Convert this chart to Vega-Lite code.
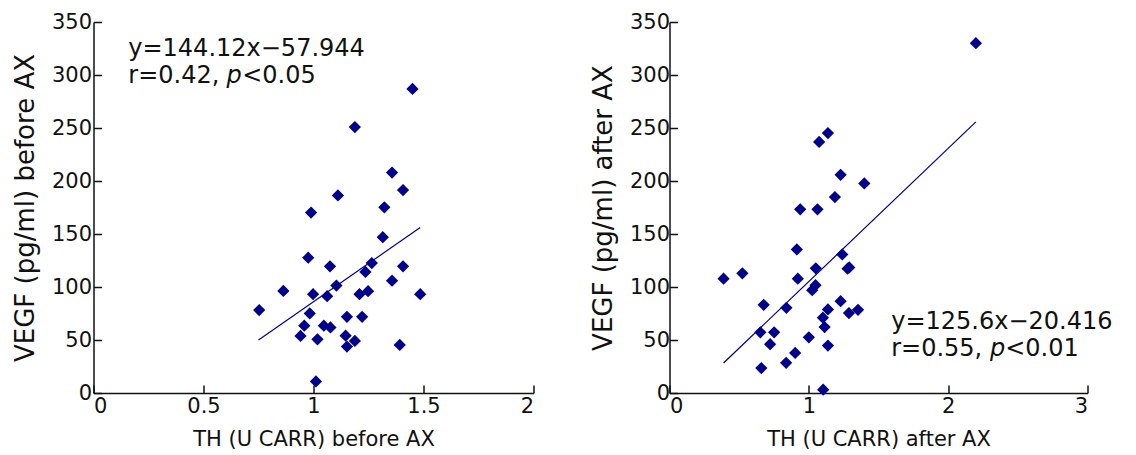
{
  "$schema": "https://vega.github.io/schema/vega-lite/v6.json",
  "padding": {"left": 11.5, "top": 11, "right": 0, "bottom": 0},
  "background": "white",
  "config": {
    "font": "DejaVu Sans",
    "view": {"stroke": null},
    "axis": {
      "grid": false,
      "domainColor": "#111",
      "domainWidth": 1.5,
      "tickColor": "#111",
      "tickWidth": 1.5,
      "tickSize": -8,
      "labelFontSize": 21,
      "labelColor": "#111",
      "titleFontSize": 21,
      "titleFontWeight": "normal",
      "titleColor": "#111",
      "labelPadding": 10
    },
    "axisX": {"format": "~g"},
    "axisY": {"titleFontSize": 26, "format": "d"}
  },
  "spacing": 55,
  "datasets": {
    "before": [
      {"th": 0.753, "vegf": 78.2}, {"th": 0.863, "vegf": 96.3}, {"th": 0.941, "vegf": 53.8},
      {"th": 0.958, "vegf": 63.5}, {"th": 0.976, "vegf": 127.6}, {"th": 0.989, "vegf": 170.2},
      {"th": 0.983, "vegf": 75.1}, {"th": 0.998, "vegf": 93.2}, {"th": 1.018, "vegf": 50.7},
      {"th": 1.011, "vegf": 10.9}, {"th": 1.047, "vegf": 63.5}, {"th": 1.062, "vegf": 91.3},
      {"th": 1.077, "vegf": 61.9}, {"th": 1.075, "vegf": 119.5}, {"th": 1.104, "vegf": 101.3},
      {"th": 1.111, "vegf": 186.4}, {"th": 1.152, "vegf": 71.9}, {"th": 1.146, "vegf": 54.1},
      {"th": 1.152, "vegf": 43.8}, {"th": 1.188, "vegf": 49.1}, {"th": 1.188, "vegf": 250.9},
      {"th": 1.209, "vegf": 93.2}, {"th": 1.221, "vegf": 71.9}, {"th": 1.236, "vegf": 114.2},
      {"th": 1.248, "vegf": 96.0}, {"th": 1.265, "vegf": 122.6}, {"th": 1.315, "vegf": 147.0},
      {"th": 1.322, "vegf": 175.2}, {"th": 1.357, "vegf": 208.0}, {"th": 1.357, "vegf": 106.0},
      {"th": 1.392, "vegf": 45.4}, {"th": 1.407, "vegf": 119.5}, {"th": 1.407, "vegf": 191.4},
      {"th": 1.450, "vegf": 286.8}, {"th": 1.485, "vegf": 93.2}
    ],
    "beforeFit": [{"th": 0.75, "vegf": 50.1}, {"th": 1.485, "vegf": 156.1}],
    "after": [
      {"th": 0.388, "vegf": 107.9}, {"th": 0.523, "vegf": 112.9}, {"th": 0.676, "vegf": 83.2},
      {"th": 0.652, "vegf": 57.2}, {"th": 0.659, "vegf": 23.5}, {"th": 0.751, "vegf": 57.2},
      {"th": 0.722, "vegf": 46.0}, {"th": 0.839, "vegf": 80.4}, {"th": 0.837, "vegf": 28.5},
      {"th": 0.902, "vegf": 37.8}, {"th": 0.914, "vegf": 135.4}, {"th": 0.921, "vegf": 107.9},
      {"th": 0.938, "vegf": 173.3}, {"th": 1.000, "vegf": 52.5}, {"th": 1.024, "vegf": 97.0},
      {"th": 1.048, "vegf": 101.7}, {"th": 1.050, "vegf": 117.6}, {"th": 1.062, "vegf": 173.3},
      {"th": 1.074, "vegf": 236.8}, {"th": 1.101, "vegf": 71.0}, {"th": 1.113, "vegf": 62.2},
      {"th": 1.103, "vegf": 3.1}, {"th": 1.137, "vegf": 78.8}, {"th": 1.137, "vegf": 44.7},
      {"th": 1.137, "vegf": 245.2}, {"th": 1.187, "vegf": 184.9}, {"th": 1.228, "vegf": 205.8},
      {"th": 1.228, "vegf": 86.6}, {"th": 1.240, "vegf": 130.7}, {"th": 1.278, "vegf": 117.3},
      {"th": 1.290, "vegf": 118.5}, {"th": 1.288, "vegf": 75.4}, {"th": 1.353, "vegf": 78.5},
      {"th": 1.398, "vegf": 197.7}, {"th": 2.199, "vegf": 330.0}
    ],
    "afterFit": [{"th": 0.388, "vegf": 28.3}, {"th": 2.199, "vegf": 255.8}]
  },
  "hconcat": [
    {
      "width": 440,
      "height": 371,
      "layer": [
        {
          "data": {"name": "before"},
          "mark": {"type": "point", "shape": "diamond", "filled": true, "size": 150, "color": "#00008b", "opacity": 1},
          "encoding": {
            "x": {"field": "th", "type": "quantitative", "scale": {"domain": [0, 2], "nice": false, "zero": false},
                  "axis": {"values": [0, 0.5, 1, 1.5, 2], "title": "TH (U CARR) before AX", "titlePadding": 12}},
            "y": {"field": "vegf", "type": "quantitative", "scale": {"domain": [0, 350], "nice": false},
                  "axis": {"values": [0, 50, 100, 150, 200, 250, 300, 350], "title": "VEGF (pg/ml) before AX", "titlePadding": 13}}
          }
        },
        {
          "data": {"name": "beforeFit"},
          "mark": {"type": "line", "color": "#00008b", "strokeWidth": 1.2},
          "encoding": {
            "x": {"field": "th", "type": "quantitative"},
            "y": {"field": "vegf", "type": "quantitative"}
          }
        },
        {
          "data": {"values": [{}]},
          "mark": {"type": "text", "text": "y=144.12x\u221257.944", "align": "left", "baseline": "alphabetic", "fontSize": 24, "color": "#111"},
          "encoding": {"x": {"datum": 0.158, "type": "quantitative"}, "y": {"datum": 318, "type": "quantitative"}}
        },
        {
          "data": {"values": [{}]},
          "mark": {"type": "text", "text": "r=0.42,", "align": "left", "baseline": "alphabetic", "fontSize": 24, "color": "#111"},
          "encoding": {"x": {"datum": 0.158, "type": "quantitative"}, "y": {"datum": 292.5, "type": "quantitative"}}
        },
        {
          "data": {"values": [{}]},
          "mark": {"type": "text", "text": "p", "align": "left", "baseline": "alphabetic", "fontSize": 24, "fontStyle": "italic", "color": "#111"},
          "encoding": {"x": {"datum": 0.605, "type": "quantitative"}, "y": {"datum": 292.5, "type": "quantitative"}}
        },
        {
          "data": {"values": [{}]},
          "mark": {"type": "text", "text": "<0.05", "align": "left", "baseline": "alphabetic", "fontSize": 24, "color": "#111"},
          "encoding": {"x": {"datum": 0.676, "type": "quantitative"}, "y": {"datum": 292.5, "type": "quantitative"}}
        }
      ]
    },
    {
      "width": 418,
      "height": 371,
      "layer": [
        {
          "data": {"name": "after"},
          "mark": {"type": "point", "shape": "diamond", "filled": true, "size": 150, "color": "#00008b", "opacity": 1},
          "encoding": {
            "x": {"field": "th", "type": "quantitative", "scale": {"domain": [0, 3], "nice": false, "zero": false},
                  "axis": {"values": [0, 1, 2, 3], "title": "TH (U CARR) after AX", "titlePadding": 12}},
            "y": {"field": "vegf", "type": "quantitative", "scale": {"domain": [0, 350], "nice": false},
                  "axis": {"values": [0, 50, 100, 150, 200, 250, 300, 350], "title": "VEGF (pg/ml) after AX", "titlePadding": 13, "labelPadding": 8}}
          }
        },
        {
          "data": {"name": "afterFit"},
          "mark": {"type": "line", "color": "#00008b", "strokeWidth": 1.2},
          "encoding": {
            "x": {"field": "th", "type": "quantitative"},
            "y": {"field": "vegf", "type": "quantitative"}
          }
        },
        {
          "data": {"values": [{}]},
          "mark": {"type": "text", "text": "y=125.6x\u221220.416", "align": "left", "baseline": "alphabetic", "fontSize": 24, "color": "#111"},
          "encoding": {"x": {"datum": 1.591, "type": "quantitative"}, "y": {"datum": 60.4, "type": "quantitative"}}
        },
        {
          "data": {"values": [{}]},
          "mark": {"type": "text", "text": "r=0.55,", "align": "left", "baseline": "alphabetic", "fontSize": 24, "color": "#111"},
          "encoding": {"x": {"datum": 1.591, "type": "quantitative"}, "y": {"datum": 34.9, "type": "quantitative"}}
        },
        {
          "data": {"values": [{}]},
          "mark": {"type": "text", "text": "p", "align": "left", "baseline": "alphabetic", "fontSize": 24, "fontStyle": "italic", "color": "#111"},
          "encoding": {"x": {"datum": 2.3, "type": "quantitative"}, "y": {"datum": 34.9, "type": "quantitative"}}
        },
        {
          "data": {"values": [{}]},
          "mark": {"type": "text", "text": "<0.01", "align": "left", "baseline": "alphabetic", "fontSize": 24, "color": "#111"},
          "encoding": {"x": {"datum": 2.409, "type": "quantitative"}, "y": {"datum": 34.9, "type": "quantitative"}}
        }
      ]
    }
  ]
}
